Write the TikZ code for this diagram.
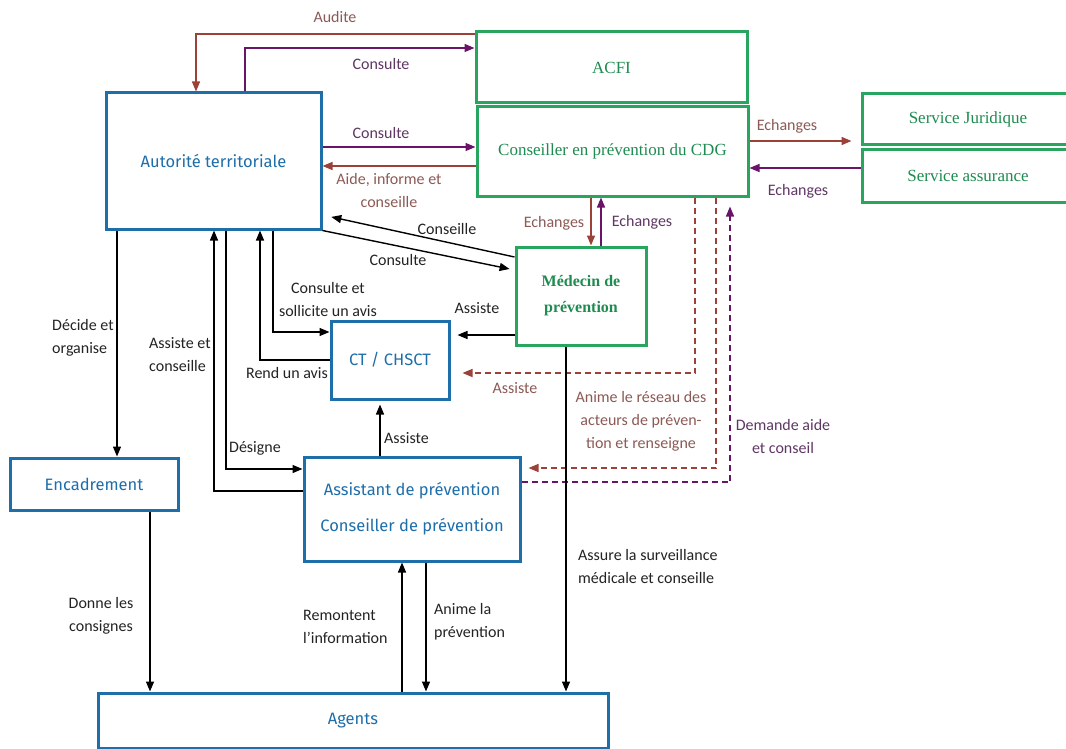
\documentclass[tikz,border=0pt]{standalone}
\usepackage{fontspec}
\setmainfont{Carlito}
\newfontfamily\bluefont{Fira Sans}
\newfontfamily\greenfont{Liberation Serif}
\usetikzlibrary{arrows.meta,calc}
\definecolor{boxblue}{RGB}{30,110,170}
\definecolor{boxgreen}{RGB}{40,165,95}
\definecolor{txtgreen}{RGB}{30,140,80}
\definecolor{arrbrown}{RGB}{155,65,55}
\definecolor{arrpurple}{RGB}{105,20,105}
\definecolor{lblbrown}{RGB}{140,90,85}
\definecolor{lblpurple}{RGB}{95,55,100}
\definecolor{lblblack}{RGB}{35,35,35}
\begin{document}
\begin{tikzpicture}[x=1pt,y=-1pt,
 bluebox/.style={draw=boxblue, line width=3pt, text=boxblue, font=\bluefont\fontsize{16.5}{36}\selectfont, align=center, inner sep=0pt},
 greenbox/.style={draw=boxgreen, line width=3pt, text=txtgreen, font=\greenfont\fontsize{17}{26}\selectfont, align=center, inner sep=0pt},
 blk/.style={draw=black, line width=1.4pt, -{Triangle[length=10pt,width=8pt]}},
 brn/.style={draw=arrbrown, line width=1.4pt, -{Triangle[length=10pt,width=8pt]}},
 prp/.style={draw=arrpurple, line width=1.4pt, -{Triangle[length=10pt,width=8pt]}},
 dsh/.style={dash pattern=on 6pt off 4pt},
 lbl/.style={font=\fontsize{16}{23}\selectfont, text=lblblack, inner sep=0pt, align=center},
 lblb/.style={lbl, text=lblbrown},
 lblp/.style={lbl, text=lblpurple},
 lbll/.style={lbl, anchor=west, align=left},
]
\useasboundingbox[fill=white] (0,0) rectangle (1066,749);
% boxes
\node[bluebox, minimum width=215pt, minimum height=136pt] (aut) at (213.5,161) {Autorité territoriale};
\node[greenbox, minimum width=271pt, minimum height=71pt] (acfi) at (611.5,67.5) {ACFI};
\node[greenbox, minimum width=271pt, minimum height=89pt] (cdg) at (612.5,151.5) {Conseiller en prévention du CDG};
\node[greenbox, minimum width=212pt, minimum height=51pt] (jur) at (968,119.5) {Service Juridique};
\node[greenbox, minimum width=212pt, minimum height=52pt] (ass) at (968,176) {Service assurance};
\node[greenbox, minimum width=130pt, minimum height=98pt, font=\greenfont\bfseries\fontsize{16}{26}\selectfont] (med) at (581,296) {Médecin de\\prévention};
\node[bluebox, minimum width=118pt, minimum height=78pt] (ct) at (390,360) {CT / CHSCT};
\node[bluebox, minimum width=168pt, minimum height=52pt] (enc) at (94,484) {Encadrement};
\node[bluebox, minimum width=216pt, minimum height=104pt] (ap) at (412,509) {Assistant de prévention\\Conseiller de prévention};
\node[bluebox, minimum width=510pt, minimum height=55pt] (agents) at (353,720.5) {Agents};
% helper coordinates
\foreach \xx in {117,150,196,214,226,245,260,273,380,402,426,566,591,601,695,716,730}{\coordinate (x\xx) at (\xx,0);}
\foreach \yy in {34,48,141,147,166,168,215,257,270,332,335,360,373,468,469,482,491}{\coordinate (y\yy) at (0,\yy);}
% connectors
\draw[brn] (acfi.west |- y34) -| (x196 |- aut.north);
\draw[prp] (x245 |- aut.north) |- (acfi.west |- y48);
\draw[prp] (aut.east |- y147) -- (cdg.west |- y147);
\draw[brn] (cdg.west |- y166) -- (aut.east |- y166);
\draw[brn, shorten >=9pt] (cdg.east |- y141) -- (jur.west |- y141);
\draw[prp] (ass.west |- y168) -- (cdg.east |- y168);
\draw[blk, shorten >=9pt] (med.west |- y257) -- (aut.east |- y215);
\draw[blk, shorten >=5pt] (aut.south east) -- (med.west |- y270);
\draw[brn] (x591 |- cdg.south) -- (x591 |- med.north);
\draw[prp] (x601 |- med.north) -- (x601 |- cdg.south);
\draw[blk, shorten >=7pt] (med.west |- y335) -- (ct.east |- y335);
\draw[brn, dsh, shorten >=12pt] (x695 |- cdg.south) |- (ct.east |- y373);
\draw[brn, dsh, shorten >=7pt] (x716 |- cdg.south) |- (ap.east |- y468);
\draw[prp, dsh, shorten >=9pt] (ap.east |- y482) -| (x730 |- cdg.south);
\draw[blk] (x566 |- med.south) -- (x566 |- agents.north);
\draw[blk] (x117 |- aut.south) -- (x117 |- enc.north);
\draw[blk] (ap.west |- y491) -| (x214 |- aut.south);
\draw[blk] (x226 |- aut.south) |- (ap.west |- y469);
\draw[blk] (x273 |- aut.south) |- (ct.west |- y332);
\draw[blk] (ct.west |- y360) -| (x260 |- aut.south);
\draw[blk, shorten >=4pt] (x380 |- ap.north) -- (x380 |- ct.south);
\draw[blk] (x150 |- enc.south) -- (x150 |- agents.north);
\draw[blk] (x402 |- agents.north) -- (x402 |- ap.south);
\draw[blk] (x426 |- ap.south) -- (x426 |- agents.north);
% labels
\node[lblb] (lAud) at (335,17) {Audite};
\node[lblp] (lCons1) at (381,64) {Consulte};
\node[lblp] (lCons2) at (381,133) {Consulte};
\node[lblb] (lAide) at (389,190.5) {Aide, informe et\\conseille};
\node[lblb] (lEch1) at (787,126) {Echanges};
\node[lblp] (lEch2) at (798,191) {Echanges};
\node[lbl] (lConseille) at (447,229) {Conseille};
\node[lbl] (lCons3) at (398,260) {Consulte};
\node[lblb] (lEch3) at (554,223) {Echanges};
\node[lblp] (lEch4) at (642,222) {Echanges};
\node[lbl] (lAss1) at (477,308) {Assiste};
\node[lblb] (lAss2) at (515,388) {Assiste};
\node[lblb] (lAnime) at (641,421) {Anime le réseau des\\acteurs de préven-\\tion et renseigne};
\node[lblp] (lDem) at (783,436.5) {Demande aide\\et conseil};
\node[lbll] (lAssure) at (578,566) {Assure la surveillance\\médicale et conseille};
\node[lbll] (lDecide) at (52,338) {Décide et\\organise};
\node[lbll] (lAssCons) at (149,354.5) {Assiste et\\conseille};
\node[lbl] (lDes) at (255,448) {Désigne};
\node[lbl] (lSoll) at (328,299.5) {Consulte et\\sollicite un avis};
\node[lbl] (lRend) at (287,373) {Rend un avis};
\node[lbll] (lAss3) at (384,438) {Assiste};
\node[lbl] (lDonne) at (101,615.5) {Donne les\\consignes};
\node[lbll] (lRem) at (303,626.5) {Remontent\\l’information};
\node[lbll] (lAnim2) at (434,621.5) {Anime la\\prévention};
\end{tikzpicture}
\end{document}
